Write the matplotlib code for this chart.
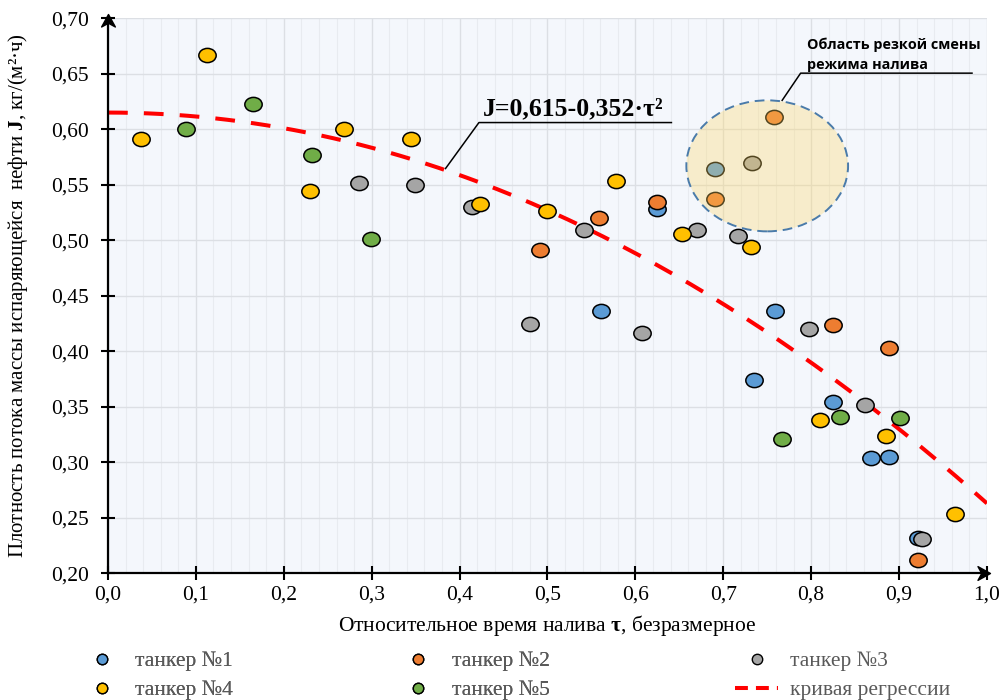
import numpy as np
import matplotlib.pyplot as plt
from matplotlib.path import Path
from matplotlib.patches import Ellipse
from matplotlib.lines import Line2D

plt.rcParams['font.family'] = ['Liberation Serif', 'DejaVu Serif']
plt.rcParams['mathtext.fontset'] = 'custom'
plt.rcParams['mathtext.rm'] = 'Liberation Serif'
plt.rcParams['mathtext.it'] = 'Liberation Serif:italic'
plt.rcParams['mathtext.bf'] = 'Liberation Serif:bold'

# ---- data ----
t1_x = [0.561, 0.625, 0.691, 0.735, 0.759, 0.825, 0.868, 0.889, 0.922]
t1_y = [0.436, 0.528, 0.564, 0.374, 0.436, 0.354, 0.304, 0.305, 0.232]

t2_x = [0.492, 0.559, 0.625, 0.691, 0.758, 0.825, 0.889, 0.922]
t2_y = [0.491, 0.520, 0.534, 0.537, 0.611, 0.424, 0.403, 0.212]

t3_x = [0.286, 0.349, 0.414, 0.480, 0.541, 0.607, 0.670, 0.717, 0.733,
        0.798, 0.861, 0.926]
t3_y = [0.552, 0.550, 0.530, 0.425, 0.509, 0.416, 0.509, 0.504, 0.570,
        0.420, 0.352, 0.231]

t4_x = [0.038, 0.113, 0.230, 0.268, 0.345, 0.423, 0.499, 0.578, 0.653,
        0.731, 0.810, 0.885, 0.964]
t4_y = [0.591, 0.667, 0.544, 0.600, 0.591, 0.533, 0.526, 0.553, 0.506,
        0.494, 0.338, 0.324, 0.253]

t5_x = [0.089, 0.165, 0.232, 0.299, 0.767, 0.833, 0.901]
t5_y = [0.600, 0.623, 0.577, 0.501, 0.321, 0.341, 0.340]

# regression J = a - b*tau^2 (as printed on the chart)
reg_a = 0.615
reg_b = 0.352

series_names = ["танкер №1", "танкер №2", "танкер №3", "танкер №4", "танкер №5"]
series_colors = ["#5B9BD5", "#ED7D31", "#A5A5A5", "#FFC000", "#70AD47"]
curve_name = "кривая регрессии"

x_ticks = [0.0, 0.1, 0.2, 0.3, 0.4, 0.5, 0.6, 0.7, 0.8, 0.9, 1.0]
x_tick_labels = ["0,0", "0,1", "0,2", "0,3", "0,4", "0,5", "0,6", "0,7", "0,8", "0,9", "1,0"]
y_ticks = [0.20, 0.25, 0.30, 0.35, 0.40, 0.45, 0.50, 0.55, 0.60, 0.65, 0.70]
y_tick_labels = ["0,20", "0,25", "0,30", "0,35", "0,40", "0,45", "0,50", "0,55", "0,60", "0,65", "0,70"]

# ---- figure ----
fig = plt.figure(figsize=(10.03, 7.0), dpi=100)
ax = fig.add_axes([0.1077, 0.181, 0.8763, 0.793])
ax.set_facecolor("#F4F7FC")

# slightly flattened circle marker (the original picture is stretched)
circ = Path.unit_circle()
oval = Path(circ.vertices * np.array([1.0, 0.82]), circ.codes)

tau = np.linspace(0, 1, 200)
ax.plot(tau, reg_a - reg_b * tau ** 2, color="#FF0000", lw=2.9,
        dashes=(4.9, 4.0), zorder=3)

xs = [t1_x, t2_x, t3_x, t4_x, t5_x]
ys = [t1_y, t2_y, t3_y, t4_y, t5_y]
for sx, sy, c in zip(xs, ys, series_colors):
    ax.plot(sx, sy, ls="none", marker=oval, ms=12.5, mfc=c, mec="black",
            mew=1.1, zorder=4)

# highlighted region
ax.add_patch(Ellipse((0.750, 0.567), 0.184, 0.118, facecolor="#FFD764",
                     alpha=0.32, edgecolor="none", zorder=5))
ax.add_patch(Ellipse((0.750, 0.567), 0.184, 0.118, facecolor="none",
                     edgecolor="#4A7BAA", lw=1.4, ls=(0, (5, 3)), zorder=6))

# leader lines and notes
ax.plot([0.384, 0.422, 0.641], [0.5646, 0.606, 0.606], color="black", lw=1.1, zorder=6)
ax.text(0.427, 0.6125, "J=0,615-0,352·τ²", fontsize=18.5, fontweight="bold",
        va="baseline", ha="left", zorder=7)

ax.plot([0.767, 0.788, 0.983], [0.626, 0.6505, 0.6505], color="black", lw=1.1,
        zorder=6, clip_on=False)
ax.text(0.795, 0.676, "Область резкой смены", family="Open Sans",
        fontweight="bold", fontsize=10.4, va="center", ha="left", zorder=7)
ax.text(0.795, 0.658, "режима налива", family="Open Sans",
        fontweight="bold", fontsize=10.4, va="center", ha="left", zorder=7)

# axes
ax.set_xlim(0, 1.0)
ax.set_ylim(0.2, 0.7)
ax.set_xticks(x_ticks)
ax.set_xticklabels(x_tick_labels)
ax.set_yticks(y_ticks)
ax.set_yticklabels(y_tick_labels)
ax.set_xticks(np.arange(0, 1.001, 0.02), minor=True)
ax.grid(which="major", color="#DCDFE4", lw=1.0, zorder=0)
ax.grid(which="minor", axis="x", color="#E8EBF0", lw=0.8, zorder=0)
ax.set_axisbelow(True)
ax.tick_params(which="major", direction="inout", length=10, width=1.5,
               labelsize=15.5, colors="black")
ax.tick_params(axis="x", pad=4)
ax.tick_params(axis="y", pad=9)
ax.tick_params(which="minor", length=0)

for s in ["top", "right"]:
    ax.spines[s].set_visible(False)
for s in ["left", "bottom"]:
    ax.spines[s].set_linewidth(1.6)
    ax.spines[s].set_zorder(8)

# arrow heads at the ends of the axes
up = Path([(0, 0), (-0.55, -1), (0, -0.7), (0.55, -1), (0, 0)],
          [Path.MOVETO, Path.LINETO, Path.LINETO, Path.LINETO, Path.CLOSEPOLY])
right = Path([(0, 0), (-1, 0.55), (-0.7, 0), (-1, -0.55), (0, 0)],
             [Path.MOVETO, Path.LINETO, Path.LINETO, Path.LINETO, Path.CLOSEPOLY])
ax.plot([0], [0.704], marker=up, ms=18, color="black", clip_on=False, zorder=9)
ax.plot([1.003], [0.2], marker=right, ms=18, color="black", clip_on=False, zorder=9)

ax.set_xlabel("Относительное время налива $\\mathbf{τ}$, безразмерное", fontsize=15.5)
ax.xaxis.set_label_coords(0.5, -0.072)
ax.set_ylabel("Плотность потока массы испаряющейся  нефти $\\mathbf{J}$, кг/(м²·ч)",
              fontsize=15)
ax.yaxis.set_label_coords(-0.089, 0.5)

# legend: two left columns in one legend, the third column separately
handles = [Line2D([], [], ls="none", marker="o", ms=7.5, mfc=c, mec="black", mew=1.0)
           for c in series_colors]
curve_handle = Line2D([], [], color="#FF0000", lw=2.9, dashes=(3.2, 2.0))
leg_kw = dict(loc="upper left", frameon=False, fontsize=15.5,
              labelcolor="#595959", borderpad=0, borderaxespad=0,
              labelspacing=0.42, handlelength=2.0, handletextpad=0.55)
leg1 = fig.legend([handles[0], handles[3], handles[1], handles[4]],
                  [series_names[0], series_names[3], series_names[1], series_names[4]],
                  ncol=2, columnspacing=7.6, bbox_to_anchor=(0.080, 0.070), **leg_kw)
fig.legend([handles[2], curve_handle], [series_names[2], curve_name],
           ncol=1, bbox_to_anchor=(0.733, 0.070), **leg_kw)
fig.add_artist(leg1)

fig.savefig("out.png", dpi=100)
